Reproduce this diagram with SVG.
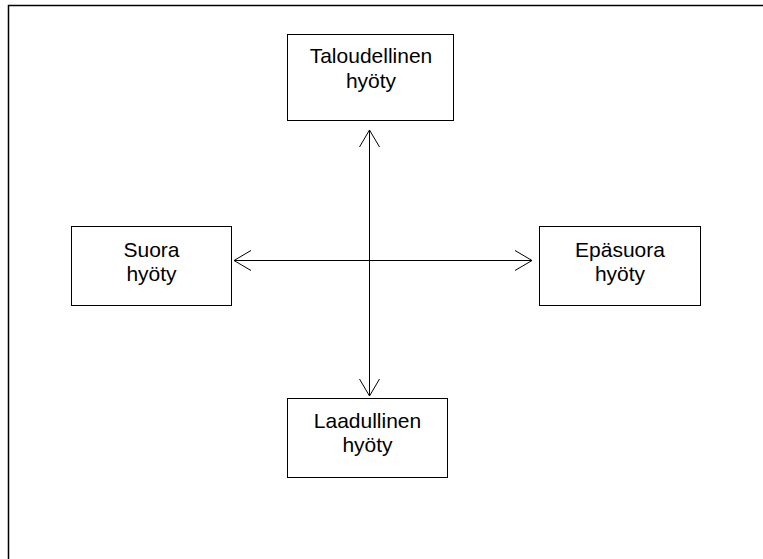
<svg xmlns="http://www.w3.org/2000/svg" width="763" height="559" viewBox="0 0 763 559">
<style>
.box{fill:#fff;stroke:#000;stroke-width:1}
.lbl{font-family:"Liberation Sans",Arial,sans-serif;font-size:21px;fill:#000;text-anchor:middle}
.conn{fill:none;stroke:#000;stroke-width:1}
.frame{fill:none;stroke:#000;stroke-width:1.5}
</style>
<defs>
<marker id="arr" markerUnits="userSpaceOnUse" viewBox="-19 -11 21 22" markerWidth="21" markerHeight="22" refX="0" refY="0" orient="auto-start-reverse" overflow="visible">
<path d="M-17,-10 L0,0 L-17,10" fill="none" stroke="#000" stroke-width="1"/>
</marker>
</defs>
<rect width="763" height="559" fill="#fff"/>
<path class="frame" d="M8.5,559 L8.5,5.5 L763,5.5"/>
<g id="connectors">
<line class="conn" x1="369.5" y1="130" x2="369.5" y2="396" marker-start="url(#arr)" marker-end="url(#arr)"/>
<line class="conn" x1="234" y1="260.5" x2="532" y2="260.5" marker-start="url(#arr)" marker-end="url(#arr)"/>
</g>
<g id="taloudellinen">
<rect class="box" x="287.5" y="34.5" width="166" height="86"/>
<text class="lbl" x="371" y="63">Taloudellinen</text>
<text class="lbl" x="371" y="88">hyöty</text>
</g>
<g id="suora">
<rect class="box" x="71.5" y="226.5" width="160" height="79"/>
<text class="lbl" x="151.5" y="257">Suora</text>
<text class="lbl" x="151.5" y="281">hyöty</text>
</g>
<g id="epasuora">
<rect class="box" x="539.5" y="226.5" width="161" height="79"/>
<text class="lbl" x="620" y="257">Epäsuora</text>
<text class="lbl" x="620" y="281">hyöty</text>
</g>
<g id="laadullinen">
<rect class="box" x="287.5" y="398.5" width="160" height="79"/>
<text class="lbl" x="367.5" y="428">Laadullinen</text>
<text class="lbl" x="367.5" y="452">hyöty</text>
</g>
</svg>
